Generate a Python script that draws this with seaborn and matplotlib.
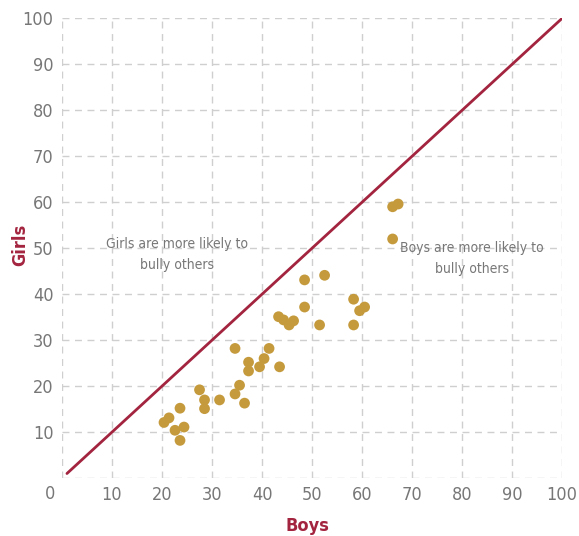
import seaborn as sns
import matplotlib.pyplot as plt
import pandas as pd

# share of boys / girls who bully others (%)
boys = [20.4, 21.4, 22.6, 23.6, 23.6, 24.4, 27.5, 28.5, 28.5, 31.5,
        34.6, 34.6, 35.5, 36.5, 37.3, 37.3, 39.5, 40.4, 41.4, 43.5,
        43.3, 44.3, 45.4, 46.3, 48.5, 48.5, 51.5, 52.5, 58.3, 58.3,
        59.5, 60.5, 66.1, 67.2, 66.1]
girls = [12.1, 13.1, 10.4, 15.2, 8.2, 11.1, 19.2, 17.0, 15.1, 17.0,
         28.2, 18.3, 20.2, 16.3, 25.2, 23.3, 24.2, 26.0, 28.2, 24.2,
         35.1, 34.4, 33.3, 34.2, 43.1, 37.2, 33.3, 44.1, 38.9, 33.3,
         36.4, 37.2, 59.0, 59.6, 52.0]
diag = [1, 100]
ticks = list(range(0, 101, 10))

df = pd.DataFrame({"Boys": boys, "Girls": girls})

sns.set_style("white")
plt.rcParams["font.family"] = ["DejaVu Sans"]
plt.rcParams["font.stretch"] = "condensed"

red = "#a3243f"
gold = "#c49a3c"
grey = "#777777"

fig = plt.figure(figsize=(5.79, 5.36), dpi=100)
ax = fig.add_axes([0.107, 0.108, 0.864, 0.858])

sns.lineplot(x=diag, y=diag, color=red, lw=2, ax=ax, zorder=2)
sns.scatterplot(data=df, x="Boys", y="Girls", color=gold, s=60,
                edgecolor="none", ax=ax, zorder=3)

ax.set_xlim(0, 100)
ax.set_ylim(0, 100)
ax.set_xticks(ticks)
ax.set_xticklabels([""] + [str(t) for t in ticks[1:]])
ax.set_yticks(ticks)
ax.set_yticklabels([""] + [str(t) for t in ticks[1:]])
ax.grid(True, color="#cfcfcf", linestyle=(0, (5, 4)), lw=1)
ax.set_axisbelow(True)
for s in ax.spines.values():
    s.set_visible(False)
ax.tick_params(length=0, labelsize=13, labelcolor=grey, pad=6)
ax.text(-2.4, -3.5, "0", fontsize=13, color=grey, ha="center", va="center")

ax.set_xlabel("Boys", fontsize=13, color=red, fontweight="bold")
ax.set_ylabel("Girls", fontsize=13, color=red, fontweight="bold")
ax.xaxis.set_label_coords(0.49, -0.085)
ax.yaxis.set_label_coords(-0.066, 0.507)

ax.text(23, 48.6, "Girls are more likely to\nbully others", fontsize=10,
        color=grey, ha="center", va="center", linespacing=1.6)
ax.text(82, 47.8, "Boys are more likely to\nbully others", fontsize=10,
        color=grey, ha="center", va="center", linespacing=1.6)

fig.savefig("out.png", dpi=100)
